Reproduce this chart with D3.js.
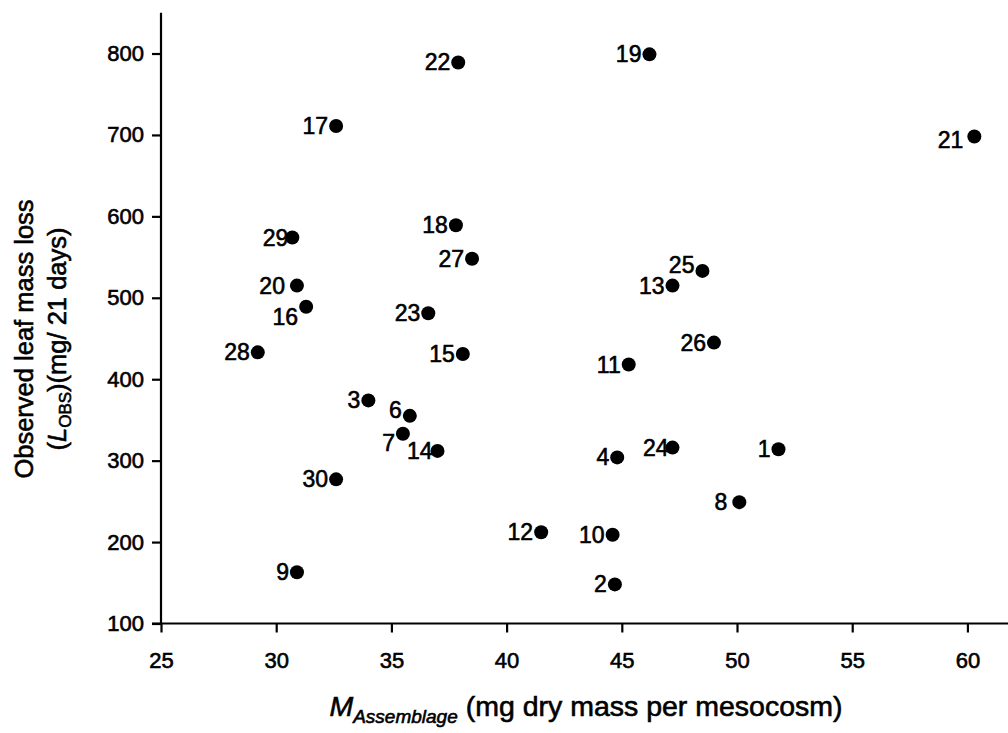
<!DOCTYPE html>
<html><head><meta charset="utf-8">
<script src="https://cdn.jsdelivr.net/npm/d3@7"></script>
<style>
html,body{margin:0;padding:0;background:#fff;}
text{font-family:"Liberation Sans",Arial,sans-serif;fill:#000;stroke:#000;stroke-width:0.6px;}
</style></head>
<body>
<svg id="chart" width="1008" height="733"></svg>
<script>
// Data
const ids = [1,2,3,4,6,7,8,9,10,11,12,13,14,15,16,17,18,19,20,21,22,23,24,25,26,27,28,29,30];
const mAssemblage = [51.8,44.7,34.0,44.8,35.8,35.5,50.1,30.9,44.6,45.3,41.5,47.2,37.0,38.1,31.3,32.6,37.8,46.2,30.9,60.3,37.9,36.6,47.2,48.5,49.0,38.5,29.2,30.7,32.6];
const lObs = [314,148,374,304,355,333,249,163,209,418,212,515,312,431,489,711,589,799,515,698,789,481,316,533,445,548,433,574,277];
const xTicks = [25,30,35,40,45,50,55,60];
const yTicks = [100,200,300,400,500,600,700,800];

// label nudges (layout only)
const nudge = {16:[0,10],7:[0,9],6:[0,-6],25:[0,-6],20:[-4,0],8:[-4,0],29:[4,0],24:[4,0],14:[3,0],21:[-3,3]};

const svg = d3.select("#chart");
const x = d3.scaleLinear().domain([25,62]).range([161,1013.5]);
const y = d3.scaleLinear().domain([100,850]).range([623.5,12.8]);

const xAxis = svg.append("g").attr("transform","translate(0,"+y(100)+")")
  .call(d3.axisBottom(x).tickValues(xTicks).tickSize(9).tickPadding(20).tickFormat(d3.format("d")));
const yAxis = svg.append("g").attr("transform","translate("+x(25)+",0)")
  .call(d3.axisLeft(y).tickValues(yTicks).tickSize(9).tickPadding(8).tickFormat(d3.format("d")));
[xAxis,yAxis].forEach(a=>{
  a.select(".domain").attr("stroke","#000").attr("stroke-width",2.2);
  a.selectAll(".tick line").attr("stroke","#000").attr("stroke-width",2.2);
  a.selectAll(".tick text").attr("font-size",22).attr("font-family","Liberation Sans, Arial, sans-serif").attr("fill","#000");
});
xAxis.select(".domain").attr("d","M"+(x(25)-9)+",0H1010");
yAxis.select(".domain").attr("d","M0,"+y(100)+"V"+y(850));

const pts = ids.map((id,i)=>({id, x:mAssemblage[i], y:lObs[i]}));
svg.append("g").selectAll("circle").data(pts).join("circle")
  .attr("cx",d=>x(d.x)).attr("cy",d=>y(d.y)).attr("r",7).attr("fill","#000");
svg.append("g").selectAll("text").data(pts).join("text")
  .attr("x",d=>x(d.x)-8+((nudge[d.id]||[0,0])[0]))
  .attr("y",d=>y(d.y)+8+((nudge[d.id]||[0,0])[1]))
  .attr("text-anchor","end").attr("font-size",23).text(d=>d.id);

// X title
const xt = svg.append("text").attr("x",586).attr("y",716).attr("text-anchor","middle").attr("font-size",28.5);
xt.append("tspan").attr("font-style","italic").text("M");
xt.append("tspan").attr("font-style","italic").attr("font-size",19).attr("dy",7).text("Assemblage");
xt.append("tspan").attr("dy",-7).text(" (mg dry mass per mesocosm)");

// Y title
const yt = svg.append("g").attr("transform","translate(0,339) rotate(-90)");
yt.append("text").attr("x",0).attr("y",33).attr("text-anchor","middle").attr("font-size",25.5).text("Observed leaf mass loss");
const y2 = yt.append("text").attr("x",0).attr("y",66).attr("text-anchor","middle").attr("font-size",25.5);
y2.append("tspan").text("(");
y2.append("tspan").attr("font-style","italic").text("L");
y2.append("tspan").attr("font-size",17).attr("dy",5).text("OBS");
y2.append("tspan").attr("dy",-5).text(")(mg/ 21 days)");
</script>
</body></html>
